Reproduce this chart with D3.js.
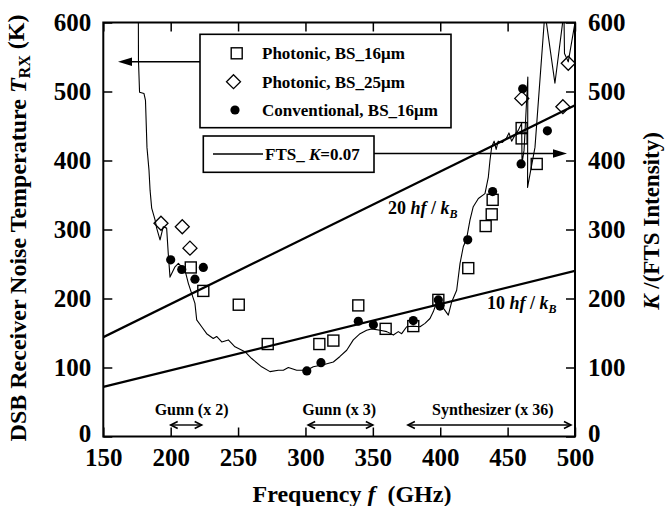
<!DOCTYPE html>
<html><head><meta charset="utf-8">
<script src="https://cdn.jsdelivr.net/npm/d3@7"></script>
<style>
body{margin:0;background:#fff}
svg{display:block}
text{font-family:"Liberation Serif","Times New Roman",serif;font-weight:bold;fill:#000}
</style></head><body>
<svg id="c" width="666" height="506"></svg>
<script>
// ---- data ----
const freqTicks = [150,200,250,300,350,400,450,500];
const tempTicks = [0,100,200,300,400,500,600];
const photonic16 = [[214.9,245],[224.2,211],[250.5,191],[272,134],[310.3,134],[320.7,139],[339.2,190],[359.5,156],[380,160],[398.6,198],[420.8,244],[433.7,305],[438.2,322],[438.9,343],[460.4,447],[460.4,432],[471.6,395]];
const photonic25 = [[192.8,309],[208.6,304],[214.3,273],[460.5,490],[491,478],[495,541]];
const conventional16 = [[200,256],[208.2,242],[218,228],[224.2,245],[301,95],[311.5,107],[339.2,167],[350.4,162],[380,168],[398.6,198],[399.8,189],[420.4,285],[438.9,355],[461.2,504],[460,395],[479.5,443]];
const ftsFreq = [176.0,176.1,176.9,180.2,181.3,182.4,183.9,184.7,185.9,188.4,189.6,192.1,194.5,197.0,198.2,199.5,203.2,205.7,210.6,213.1,215.6,218.0,219.3,223.0,226.7,231.6,234.1,237.9,242.8,247.7,255.1,260.1,267.5,273.7,279.9,283.6,287.3,293.5,300.9,305.8,313.2,320.7,325.6,330.6,335.5,340.5,345.4,349.2,355.3,360.3,365.2,368.9,371.4,375.1,380.0,385.0,388.7,392.4,394.9,397.4,402.3,406.0,408.5,412.2,414.7,417.1,419.6,422.1,424.5,428.3,433.2,435.7,436.9,438.2,440.0,441.5,443.0,446.0,449.0,451.0,453.0,455.5,458.0,460.4,460.7,462.2,465.0,464.8,470.3,477.7,485.1,491.8,492.2,495.0,500.0];
const ftsK =    [615,545,499,497,487,419,386,357,331,314,302,285,304,302,265,231,246,251,241,222,207,193,169,159,149,142,145,137,140,130,123,113,101,94,96,96,100,96,96,101,104,108,116,125,140,149,154,156,154,152,147,152,149,159,160,159,164,171,181,195,186,176,195,212,251,275,287,314,333,345,352,376,400,420,428,416,428,426,432,440,428,437,444,454,396,415,521,361,419,615,512,615,555,543,600];
const hfFreq = [150, 500];
const hf20 = [144, 480];
const hf10 = [72, 240];
const ranges = [
  {label:"Gunn (x 2)", from:200, to:223, textAt:215.5},
  {label:"Gunn (x 3)", from:302, to:350, textAt:325},
  {label:"Synthesizer (x 36)", from:376, to:497, textAt:439}
];

// ---- layout ----
const svg = d3.select("#c");
const L=103.3, R=575, T=22.5, B=436.5;
const x = d3.scaleLinear([150,500],[L,R]);
const y = d3.scaleLinear([0,600],[B,T]);

svg.append("defs").append("clipPath").attr("id","clip")
  .append("rect").attr("x",L).attr("y",T).attr("width",R-L).attr("height",B-T);

// axes (ticks inward on all sides)
const minorX = d3.range(150,501,10), minorY = d3.range(0,601,20);
function axis(gen, ticks, size, fmt, pad){
  return gen.tickValues(ticks).tickSize(size).tickPadding(pad).tickFormat(fmt);
}
const gB = svg.append("g").attr("transform",`translate(0,${B})`);
gB.call(axis(d3.axisBottom(x),minorX,-5,"",0));
gB.call(axis(d3.axisBottom(x),freqTicks,-9,d3.format("d"),10));
const gT = svg.append("g").attr("transform",`translate(0,${T})`);
gT.call(axis(d3.axisTop(x),minorX,-5,"",0));
gT.call(axis(d3.axisTop(x),freqTicks,-9,"",0));
const gL = svg.append("g").attr("transform",`translate(${L},0)`);
gL.call(axis(d3.axisLeft(y),minorY,-5,"",0));
gL.call(axis(d3.axisLeft(y),tempTicks,-9,d3.format("d"),12));
const gR = svg.append("g").attr("transform",`translate(${R},0)`);
gR.call(axis(d3.axisRight(y),minorY,-5,"",0));
gR.call(axis(d3.axisRight(y),tempTicks,-9,d3.format("d"),13));
svg.selectAll(".domain").remove();
svg.selectAll(".tick line").attr("stroke","#000").attr("stroke-width",1.5);
svg.selectAll(".tick text").style("font-family",'"Liberation Serif",serif').style("font-weight","bold").style("font-size","25px").attr("fill","#000");
gB.selectAll(".tick text").attr("dy","0.78em");
gL.selectAll(".tick text").filter(d=>d===0).attr("dy","0.2em");
gR.selectAll(".tick text").filter(d=>d===0).attr("dy","0.2em");
svg.append("rect").attr("x",L).attr("y",T).attr("width",R-L).attr("height",B-T)
  .attr("fill","none").attr("stroke","#000").attr("stroke-width",2);

// axis titles
const xt = svg.append("text").attr("x",352).attr("y",502).attr("text-anchor","middle").style("font-size","24px");
xt.append("tspan").text("Frequency ");
xt.append("tspan").style("font-style","italic").text("f");
xt.append("tspan").text("\u00a0 (GHz)");
const yt = svg.append("text").attr("transform","translate(26,228) rotate(-90)").attr("text-anchor","middle").style("font-size","24px");
yt.append("tspan").text("DSB Receiver Noise Temperature ");
yt.append("tspan").style("font-style","italic").text("T");
yt.append("tspan").attr("dy","0.25em").style("font-size","16px").text("RX");
yt.append("tspan").attr("dy","-0.25em").text(" (K)");
const rt = svg.append("text").attr("transform","translate(659,221) rotate(-90)").attr("text-anchor","middle").style("font-size","23px");
rt.append("tspan").style("font-style","italic").text("K");
rt.append("tspan").text(" /(FTS Intensity)");

// theoretical lines
const plot = svg.append("g").attr("clip-path","url(#clip)");
const lineGen = d3.line().x(d=>x(d[0])).y(d=>y(d[1]));
[hf20,hf10].forEach(v=>{
  plot.append("path").attr("d",lineGen(hfFreq.map((f,i)=>[f,v[i]])))
    .attr("fill","none").attr("stroke","#000").attr("stroke-width",2.2);
});
// FTS curve
plot.append("path").attr("d",lineGen(ftsFreq.map((f,i)=>[f,ftsK[i]])))
  .attr("fill","none").attr("stroke","#000").attr("stroke-width",1.1).attr("stroke-linejoin","round");

// markers
const sq=11, dm=7;
svg.append("g").selectAll("rect").data(photonic16).join("rect")
  .attr("x",d=>x(d[0])-sq/2).attr("y",d=>y(d[1])-sq/2).attr("width",sq).attr("height",sq)
  .attr("fill","none").attr("stroke","#000").attr("stroke-width",1.4);
svg.append("g").selectAll("path").data(photonic25).join("path")
  .attr("d",d=>{const cx=x(d[0]),cy=y(d[1]);return `M${cx},${cy-dm}L${cx+dm},${cy}L${cx},${cy+dm}L${cx-dm},${cy}Z`;})
  .attr("fill","none").attr("stroke","#000").attr("stroke-width",1.3);
svg.append("g").selectAll("circle").data(conventional16).join("circle")
  .attr("cx",d=>x(d[0])).attr("cy",d=>y(d[1])).attr("r",4.6).attr("fill","#000");

// line labels
function hfLabel(px,py,num){
  const t = svg.append("text").attr("x",px).attr("y",py).style("font-size","18px");
  t.append("tspan").text(num+" ");
  t.append("tspan").style("font-style","italic").text("hf");
  t.append("tspan").text(" / ");
  t.append("tspan").style("font-style","italic").text("k");
  t.append("tspan").attr("dy","0.35em").style("font-size","12px").style("font-style","italic").text("B");
}
hfLabel(388,214,"20");
hfLabel(487,309,"10");

// legend 1
svg.append("rect").attr("x",200).attr("y",34.3).attr("width",251).attr("height",93.4)
  .attr("fill","#fff").attr("stroke","#000").attr("stroke-width",1.6);
svg.append("rect").attr("x",236.7-5.5).attr("y",53.3-5.5).attr("width",11).attr("height",11).attr("fill","none").attr("stroke","#000").attr("stroke-width",1.4);
svg.append("path").attr("d",`M233.5,${81.7-7}L240.5,81.7L233.5,${81.7+7}L226.5,81.7Z`).attr("fill","none").attr("stroke","#000").attr("stroke-width",1.3);
svg.append("circle").attr("cx",235).attr("cy",110).attr("r",4.6).attr("fill","#000");
const legNames = ["Photonic, BS_16\u03bcm","Photonic, BS_25\u03bcm","Conventional, BS_16\u03bcm"];
[59,88,116].forEach((yy,i)=>svg.append("text").attr("x",262).attr("y",yy).style("font-size","17px").text(legNames[i]));
// leader arrow left
svg.append("line").attr("x1",200).attr("y1",61.7).attr("x2",125).attr("y2",61.7).attr("stroke","#000").attr("stroke-width",1.5);
svg.append("path").attr("d","M118,61.7L132,57.5L132,65.9Z").attr("fill","#000");

// legend 2
svg.append("rect").attr("x",203.3).attr("y",136).attr("width",170.7).attr("height",36.3)
  .attr("fill","#fff").attr("stroke","#000").attr("stroke-width",1.6);
svg.append("line").attr("x1",213).attr("x2",263).attr("y1",154).attr("y2",154).attr("stroke","#000").attr("stroke-width",1.3);
const ft = svg.append("text").attr("x",265).attr("y",160).style("font-size","17px");
ft.append("tspan").text("FTS_ ");
ft.append("tspan").style("font-style","italic").text("K");
ft.append("tspan").text("=0.07");
svg.append("line").attr("x1",374).attr("y1",153.5).attr("x2",558).attr("y2",153.5).attr("stroke","#000").attr("stroke-width",1.5);
svg.append("path").attr("d","M567,153.5L553,149.3L553,157.7Z").attr("fill","#000");

// LO ranges
const ry = 425;
ranges.forEach(r=>{
  const a=x(r.from), b=x(r.to);
  svg.append("line").attr("x1",a).attr("x2",b).attr("y1",ry).attr("y2",ry).attr("stroke","#000").attr("stroke-width",1.4);
  svg.append("path").attr("d",`M${a+7},${ry-3.5}L${a},${ry}L${a+7},${ry+3.5}M${b-7},${ry-3.5}L${b},${ry}L${b-7},${ry+3.5}`)
    .attr("fill","none").attr("stroke","#000").attr("stroke-width",1.6);
  svg.append("text").attr("x",x(r.textAt)).attr("y",415).attr("text-anchor","middle").style("font-size","16px").text(r.label);
});
</script>
</body></html>
